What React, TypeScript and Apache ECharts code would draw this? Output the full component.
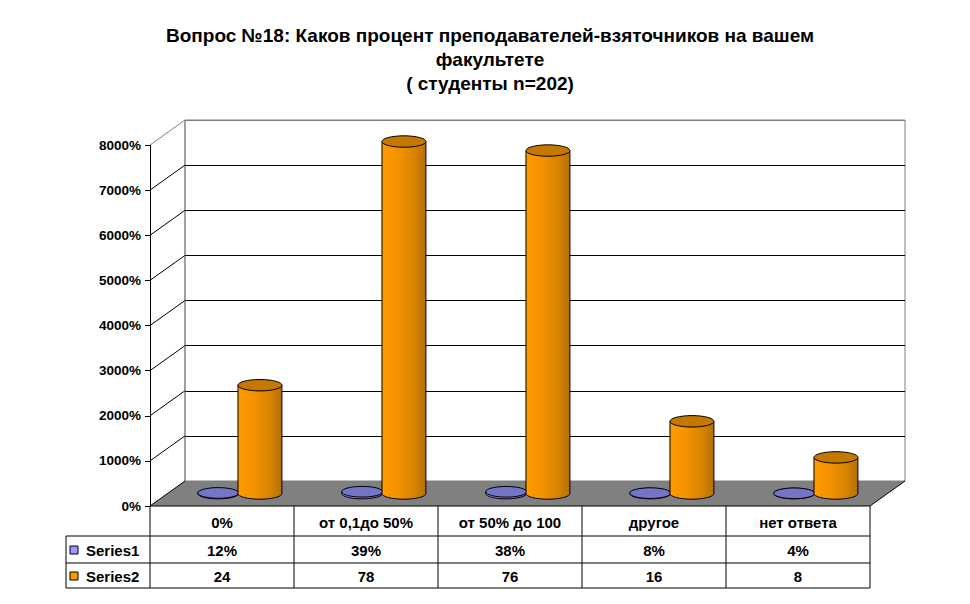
import React, { useEffect, useRef } from 'react';
import * as echarts from 'echarts';

const titleLines = [
  'Вопрос №18: Каков процент преподавателей-взяточников на вашем',
  'факультете',
  '( студенты n=202)',
];
const categories = ['0%', 'от 0,1до 50%', 'от 50% до 100', 'другое', 'нет ответа'];
const seriesNames = ['Series1', 'Series2'];
const series1Values = [0.12, 0.39, 0.38, 0.08, 0.04];
const series2Values = [24, 78, 76, 16, 8];
const yTicks = [0, 10, 20, 30, 40, 50, 60, 70, 80];
const Y_MAX = 80;
const Y_INTERVAL = 10;

const FONT = 'Arial, "Liberation Sans", sans-serif';

// layout
const FX = 150; // front plane left
const FYB = 506; // front plane bottom (0%)
const PW = 720;
const PH = 361;
const DX = 35;
const DY = 25;
const TABLE_LEFT = 66;
const ROWS = [506, 536, 563, 588];

const fmtAxis = (v: number) => `${Math.round(v * 100)}%`;
const fmtS1 = (v: number) => `${Math.round(v * 100)}%`;
const fmtS2 = (v: number) => `${v}`;

const seriesStyles = [
  {
    offset: -0.148,
    width: 0.285,
    body: [
      { offset: 0, color: '#A0A0FF' },
      { offset: 0.5, color: '#8585E0' },
      { offset: 1, color: '#5C5CAA' },
    ],
    top: '#7474C8',
    legend: '#9999FF',
  },
  {
    offset: 0.142,
    width: 0.305,
    body: [
      { offset: 0, color: '#FF9900' },
      { offset: 0.35, color: '#F59400' },
      { offset: 0.7, color: '#DA8400' },
      { offset: 1, color: '#B86F00' },
    ],
    top: '#C47800',
    legend: '#FF9900',
  },
];

function makeRender(idx: number) {
  const st = seriesStyles[idx];
  return (params: any, api: any) => {
    const i = api.value(0);
    const v = api.value(1);
    const base = api.coord([i, 0]);
    const top = api.coord([i, v]);
    const band = api.size([1, 0])[0];
    const w = band * st.width;
    const rx = w / 2;
    const ry = w * 0.13;
    const cx = base[0] + band * st.offset;
    const h = Math.max(base[1] - top[1], 0);
    const grad = { type: 'linear', x: 0, y: 0, x2: 1, y2: 0, colorStops: st.body };
    return {
      type: 'group',
      children: [
        {
          type: 'ellipse',
          shape: { cx, cy: base[1], rx, ry },
          style: { fill: grad, stroke: '#000', lineWidth: 1 },
        },
        {
          type: 'rect',
          shape: { x: cx - rx, y: top[1], width: w, height: h },
          style: { fill: grad },
        },
        {
          type: 'line',
          shape: { x1: cx - rx, y1: top[1], x2: cx - rx, y2: base[1] },
          style: { stroke: '#000', lineWidth: 1 },
        },
        {
          type: 'line',
          shape: { x1: cx + rx, y1: top[1], x2: cx + rx, y2: base[1] },
          style: { stroke: '#000', lineWidth: 1 },
        },
        {
          type: 'ellipse',
          shape: { cx, cy: top[1], rx, ry },
          style: { fill: st.top, stroke: '#000', lineWidth: 1 },
        },
      ],
    };
  };
}

function buildGraphics() {
  const els: any[] = [];
  const yf = (v: number) => FYB - (v / Y_MAX) * PH;
  // floor
  els.push({
    type: 'polygon',
    z: 1,
    shape: {
      points: [
        [FX, FYB],
        [FX + DX, FYB - DY],
        [FX + DX + PW, FYB - DY],
        [FX + PW, FYB],
      ],
    },
    style: { fill: '#808080' },
  });
  els.push({
    type: 'line',
    z: 2,
    shape: { x1: FX + DX + PW, y1: FYB - DY, x2: FX + PW, y2: FYB },
    style: { stroke: '#000', lineWidth: 1 },
  });
  // left wall
  els.push({
    type: 'line',
    z: 2,
    shape: { x1: FX + DX, y1: yf(Y_MAX) - DY, x2: FX + DX, y2: FYB - DY },
    style: { stroke: '#808080', lineWidth: 1 },
  });
  yTicks.forEach((t) => {
    els.push({
      type: 'line',
      z: 2,
      shape: { x1: FX, y1: yf(t), x2: FX + DX, y2: yf(t) - DY },
      style: { stroke: t === Y_MAX ? '#808080' : '#000', lineWidth: 1 },
    });
  });
  // data table
  const colW = PW / categories.length;
  const line = (x1: number, y1: number, x2: number, y2: number) =>
    els.push({
      type: 'line',
      z: 3,
      shape: { x1, y1, x2, y2 },
      style: { stroke: '#000', lineWidth: 1 },
    });
  line(FX, ROWS[0], FX + PW, ROWS[0]);
  for (let r = 1; r < ROWS.length; r++) line(TABLE_LEFT, ROWS[r], FX + PW, ROWS[r]);
  line(TABLE_LEFT, ROWS[1], TABLE_LEFT, ROWS[3]);
  for (let c = 0; c <= categories.length; c++) line(FX + c * colW, ROWS[0], FX + c * colW, ROWS[3]);
  const text = (x: number, y: number, s: string, align: string) =>
    els.push({
      type: 'text',
      z: 4,
      x,
      y,
      style: {
        text: s,
        font: `bold 15px ${FONT}`,
        fill: '#000',
        align,
        verticalAlign: 'middle',
      },
    });
  categories.forEach((c, i) => text(FX + (i + 0.5) * colW, (ROWS[0] + ROWS[1]) / 2 + 1, c, 'center'));
  const rowsVals = [series1Values.map(fmtS1), series2Values.map(fmtS2)];
  seriesNames.forEach((n, r) => {
    const cy = (ROWS[r + 1] + ROWS[r + 2]) / 2 + 1;
    els.push({
      type: 'rect',
      z: 4,
      shape: { x: TABLE_LEFT + 4, y: cy - 4.5, width: 8, height: 8 },
      style: { fill: seriesStyles[r].legend, stroke: '#000', lineWidth: 1 },
    });
    text(TABLE_LEFT + 20, cy, n, 'left');
    rowsVals[r].forEach((s, i) => text(FX + (i + 0.5) * colW, cy, s, 'center'));
  });
  return els;
}

export default function App() {
  const ref = useRef<HTMLDivElement>(null);
  useEffect(() => {
    if (!ref.current) return;
    const chart = echarts.init(ref.current, null, { renderer: 'svg' });
    const hiddenCat = { type: 'category', data: categories, show: false } as any;
    const option: any = {
      animation: false,
      backgroundColor: '#fff',
      title: {
        text: titleLines.join('\n'),
        left: 485,
        top: 18,
        textAlign: 'center',
        textStyle: { fontFamily: FONT, fontWeight: 'bold', fontSize: 19, lineHeight: 24, color: '#000' },
      },
      grid: [
        { left: FX, top: FYB - PH, width: PW, height: PH },
        {
          left: FX + DX,
          top: FYB - PH - DY,
          width: PW,
          height: PH,
          show: true,
          borderColor: '#808080',
          borderWidth: 1,
        },
        { left: FX + DX / 2, top: FYB - PH - DY / 2, width: PW, height: PH },
      ],
      xAxis: [
        { ...hiddenCat, gridIndex: 0 },
        { ...hiddenCat, gridIndex: 1 },
        { ...hiddenCat, gridIndex: 2 },
      ],
      yAxis: [
        {
          gridIndex: 0,
          type: 'value',
          min: 0,
          max: Y_MAX,
          interval: Y_INTERVAL,
          axisLine: { show: true, lineStyle: { color: '#000', width: 1 } },
          axisTick: { show: true, inside: false, length: 5, lineStyle: { color: '#000' } },
          splitLine: { show: false },
          axisLabel: {
            formatter: fmtAxis,
            fontFamily: FONT,
            fontWeight: 'bold',
            fontSize: 13.5,
            color: '#000',
            margin: 9,
          },
        },
        {
          gridIndex: 1,
          type: 'value',
          min: 0,
          max: Y_MAX,
          interval: Y_INTERVAL,
          axisLine: { show: false },
          axisTick: { show: false },
          axisLabel: { show: false },
          splitLine: {
            show: true,
            lineStyle: {
              color: yTicks.map((t) => (t === Y_MAX ? '#808080' : '#000')),
              width: 1,
            },
          },
        },
        {
          gridIndex: 2,
          type: 'value',
          min: 0,
          max: Y_MAX,
          interval: Y_INTERVAL,
          show: false,
        },
      ],
      series: [series1Values, series2Values].map((vals, k) => ({
        type: 'custom',
        name: seriesNames[k],
        xAxisIndex: 2,
        yAxisIndex: 2,
        z: 10 + k,
        renderItem: makeRender(k),
        encode: { x: 0, y: 1 },
        data: vals.map((v, i) => [i, v]),
      })),
      graphic: { elements: buildGraphics() },
    };
    chart.setOption(option);
    return () => chart.dispose();
  }, []);
  return (
    <div
      ref={ref}
      style={{ position: 'absolute', left: 0, top: 0, width: 970, height: 604, background: '#fff' }}
    />
  );
}
